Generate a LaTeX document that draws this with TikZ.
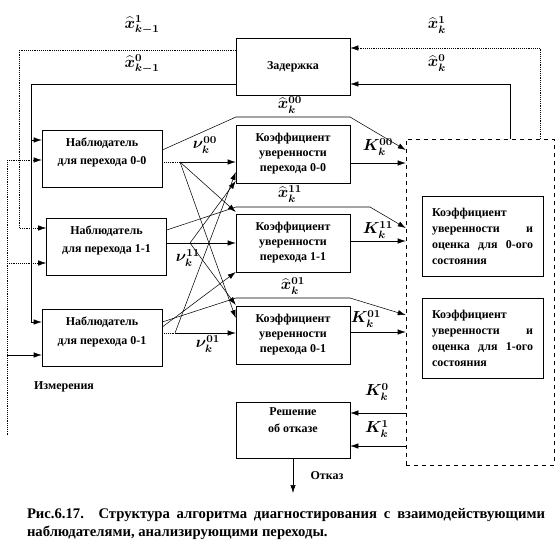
\documentclass[tikz,border=0pt]{standalone}
\usepackage{fontspec}
\setmainfont{Liberation Serif}
\usetikzlibrary{positioning, arrows.meta}

\tikzset{
  box/.style={draw, thin, inner sep=0pt, align=center,
    font=\fontsize{9}{14}\selectfont\bfseries},
  obsbox/.style={box, minimum width=90pt, minimum height=43pt, text depth=11pt},
  coefbox/.style={box, minimum width=85.5pt, minimum height=43.5pt,
    font=\fontsize{9}{11.25}\selectfont\bfseries},
  estbox/.style={draw, thin, inner sep=7.5pt, text width=75.75pt,
    minimum height=60pt, align=left,
    font=\fontsize{9}{12}\selectfont\bfseries},
  lbl/.style={inner sep=0pt, font=\fontsize{12}{14}\selectfont\boldmath},
  arr/.style={-{Latex[length=6pt,width=4pt]}, thin},
  dots/.style={densely dotted},
}

\begin{document}
\begin{tikzpicture}[x=0.75pt, y=-0.75pt]
  \useasboundingbox (0,0) rectangle (557,554);

  % blocks
  \node[box, minimum width=85.5pt, minimum height=42.75pt] (delay) at (293,66.5) {Задержка};
  \node[obsbox] (obs00) at (102,158.5) {Наблюдатель\\для перехода 0-0};
  \node[obsbox] (obs11) at (106.5,246.5) {Наблюдатель\\для перехода 1-1};
  \node[obsbox] (obs01) at (102,338) {Наблюдатель\\для перехода 0-1};
  \node[coefbox] (coef00) at (293,154) {Коэффициент\\уверенности\\перехода 0-0};
  \node[coefbox] (coef11) at (293,243) {Коэффициент\\уверенности\\перехода 1-1};
  \node[coefbox] (coef01) at (293,335) {Коэффициент\\уверенности\\перехода 0-1};
  \node[box, minimum width=85.5pt, minimum height=42pt, text depth=15pt,
    font=\fontsize{9}{12.75}\selectfont\bfseries] (decision) at (293,430) {Решение\\об отказе};
  \node[draw, dashed, thin, minimum width=111pt, minimum height=244.5pt] (comb) at (480,302) {};
  \node[estbox] (est0) at (482.5,236) {Коэффициент\\уверенности\hfill и\\оценка\hfill для\hfill 0-ого\\состояния};
  \node[estbox] (est1) at (482.5,338) {Коэффициент\\уверенности\hfill и\\оценка\hfill для\hfill 1-ого\\состояния};

  % delay outputs back to the observers
  \draw[arr, dots] (delay.west |- 0,50) -- (19,50) -- (19,228) -- (obs11.west |- 0,228);
  \draw (delay.west |- 0,84) -- (31,84) -- (31,322);
  \draw[arr] (31,140) -- (obs00.west |- 0,140);
  \draw[arr] (31,322) -- (obs01.west |- 0,322);
  \node[lbl] (xprev1) at (142,25) {$\widehat{x}_{k-1}^{1}$};
  \node[lbl] (xprev0) at (142,64) {$\widehat{x}_{k-1}^{0}$};

  % estimates into the delay
  \draw[arr, dots] (comb.north -| 540,0) -- (540,48) -- (delay.east |- 0,48);
  \draw[arr] (comb.north -| 510,0) -- (510,84) -- (delay.east |- 0,84);
  \node[lbl] (xcur1) at (437,25) {$\widehat{x}_{k}^{1}$};
  \node[lbl] (xcur0) at (437,63) {$\widehat{x}_{k}^{0}$};

  % measurements
  \coordinate (meas) at (7,435);
  \draw[dots] (meas) -- (7,160);
  \draw[arr, dots] (7,160) -- (obs00.west |- 0,160);
  \draw[arr, dots] (7,263) -- (obs11.west |- 0,263);
  \draw[arr] (7,355) -- (obs01.west |- 0,355);
  \node[box, draw=none] (measlbl) at (64,387) {Измерения};

  % residuals
  \coordinate (j00) at (180,162);
  \coordinate (j11) at (190,243);
  \coordinate (j01) at (175,333);
  \draw[dots] (obs00.east |- j00) -- (j00);
  \draw[arr] (j00) -- (coef00.west |- j00);
  \draw[arr] (obs11.east |- j11) -- (coef11.west |- j11);
  \draw[dots] (obs01.east |- j01) -- (j01);
  \draw[arr] (j01) -- (coef01.west |- j01);
  \draw[arr] (j00) -- (coef11.west |- 0,212);
  \draw[arr] (j00) -- (coef01.west |- 0,318);
  \draw[arr] (j11) -- (coef00.west |- 0,181);
  \draw[arr] (j11) -- (coef01.west |- 0,305);
  \draw[arr] (j01) -- (coef00.west |- 0,172);
  \draw[arr] (obs01.east |- 0,327) -- (coef11.west |- 0,272);
  \node[lbl] (nu00) at (205,145) {$\nu_k^{00}$};
  \node[lbl] (nu11) at (188,258) {$\nu_k^{11}$};
  \node[lbl] (nu01) at (208,344) {$\nu_k^{01}$};

  % state estimates of the observers
  \draw[arr] (obs00.east |- 0,150) -- (236,117) -- (350,117) -- (comb.west |- 0,150);
  \draw[arr] (obs11.east |- 0,230) -- (236,207) -- (370,207) -- (comb.west |- 0,228);
  \draw[arr] (obs01.east |- 0,322) -- (236,298) -- (350,298) -- (comb.west |- 0,315);
  \node[lbl] (x00) at (290,105) {$\widehat{x}_{k}^{00}$};
  \node[lbl] (x11) at (290,194) {$\widehat{x}_{k}^{11}$};
  \node[lbl] (x01) at (293,286) {$\widehat{x}_{k}^{01}$};

  % confidence coefficients
  \draw[arr] (coef00.east |- 0,163) -- (comb.west |- 0,163);
  \draw[arr] (coef11.east |- 0,241) -- (comb.west |- 0,241);
  \draw[arr] (coef01.east |- 0,332) -- (comb.west |- 0,332);
  \node[lbl] (k00) at (378,147) {$K_k^{00}$};
  \node[lbl] (k11) at (378,230) {$K_k^{11}$};
  \node[lbl] (k01) at (366,319) {$K_k^{01}$};

  % decision
  \draw[arr] (comb.west |- 0,413) -- (decision.east |- 0,413);
  \draw[arr] (comb.west |- 0,446) -- (decision.east |- 0,446);
  \node[lbl] (k0) at (377,392) {$K_k^{0}$};
  \node[lbl] (k1) at (377,429) {$K_k^{1}$};
  \coordinate (fail) at (293,493);
  \draw[arr] (decision.south) -- (fail);
  \node[box, draw=none] (faillbl) at (327,476) {Отказ};

  % caption
  \node[inner sep=0pt, text width=388.5pt, align=justify,
    font=\fontsize{11}{14}\selectfont\bfseries] (caption) at (286,524)
    {Рис.6.17. Структура алгоритма диагностирования с взаимодействующими\linebreak
     наблюдателями, анализирующими переходы.};
\end{tikzpicture}
\end{document}
